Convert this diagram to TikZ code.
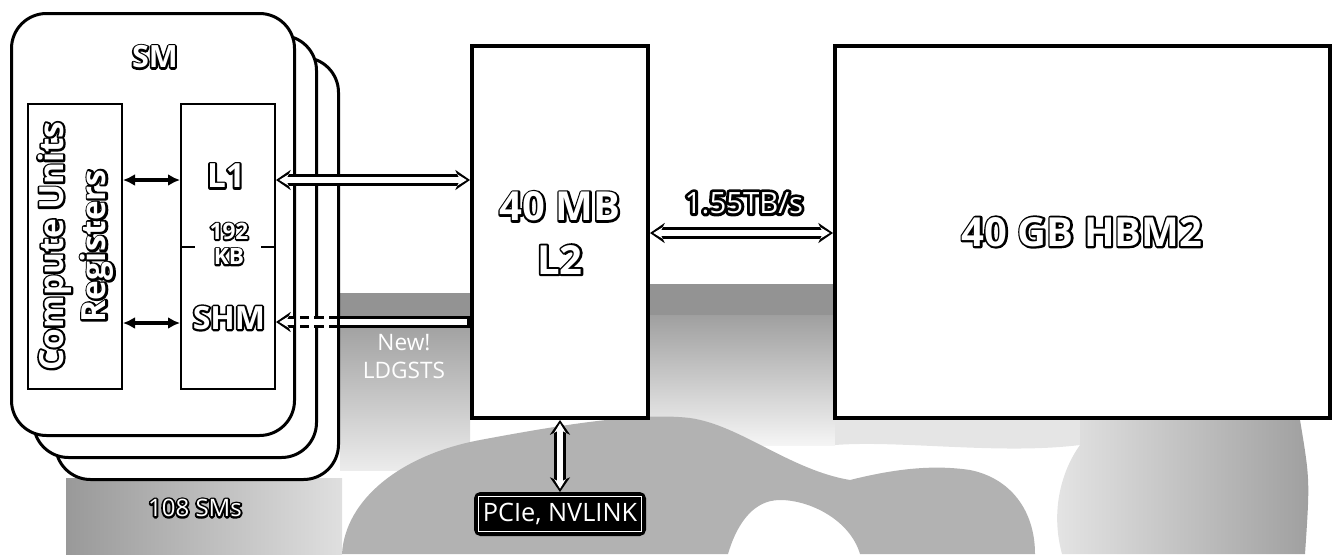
\documentclass[tikz,border=0pt]{standalone}
\usepackage{fontspec}
\setmainfont{Open Sans}
\usetikzlibrary{arrows.meta}

\def\px{0.75pt}
% white text with a black rim: a stroked black copy under the white one
\newcommand{\halo}[2][12]{\makebox[0pt][l]{\color{black}\addfontfeature{FakeBold=#1}#2}#2}

\begin{document}
\begin{tikzpicture}[x=0.75pt,y=-0.75pt]
	\tikzset{
		outtip/.tip={Stealth[length=11pt,width=15pt]},
		intip/.tip={Stealth[length=7pt,width=8.5pt]},
		smbox/.style={draw,line width=3*\px,fill=white,rounded corners=35*\px,
			minimum width=283*\px,minimum height=422*\px},
		unitbox/.style={draw,line width=2*\px,fill=white,
			minimum width=94*\px,minimum height=285*\px},
		membox/.style={draw,line width=4*\px,fill=white},
		pciebox/.style={draw,line width=2*\px,fill=black,rounded corners=4pt,text=white,
			minimum width=170*\px,minimum height=42*\px,font=\fontsize{19pt}{22pt}\selectfont},
		boldlabel/.style={text=white,inner sep=0pt,align=center,line join=round},
		thinarrow/.style={line width=2.5pt,{Latex[length=9pt,width=9pt]}-{Latex[length=9pt,width=9pt]}},
		wideout/.style={line width=9.5pt,black,>=outtip},
		widein/.style={line width=4.5pt,white,>=intip,shorten >=2.5pt,shorten <=2.5pt},
		dashpart/.style={dash pattern=on 7pt off 4pt},
	}
	\useasboundingbox (0,0) rectangle (1338,554);
	
	% background
	\fill[gray!85] (340,293) rectangle (470,322);
	\shade[top color=gray!75,bottom color=gray!15] (340,322) rectangle (470,470);
	\fill[gray!85] (650,284) rectangle (835,315);
	\shade[top color=gray!75,bottom color=gray!8] (650,315) rectangle (835,445);
	\shade[left color=gray!80,right color=gray!25] (66,478) rectangle (342,554);
	\fill[gray!60] (342,554) .. controls (345,500) and (400,455) .. (480,440)
		.. controls (560,425) and (640,412) .. (690,418)
		.. controls (740,425) and (790,470) .. (850,480)
		.. controls (890,470) and (930,464) .. (970,470)
		.. controls (1010,478) and (1035,510) .. (1035,554) -- (860,554)
		.. controls (850,520) and (810,500) .. (780,500)
		.. controls (750,500) and (735,530) .. (728,554) -- cycle;
	\fill[gray!20] (835,420) -- (1080,420) -- (1080,445) .. controls (1000,455) and (900,440) .. (835,445) -- cycle;
	\shade[left color=gray!20,right color=gray!75] (1062,554) .. controls (1050,510) and (1062,470) .. (1080,445)
		-- (1080,420) -- (1300,420) .. controls (1310,480) .. (1305,554) -- cycle;
	
	% SM stack
	\node[smbox] (sm3) at (197,268.5) {};
	\node[smbox] (sm2) at (175,246.5) {};
	\node[smbox] (sm1) at (153,224.5) {};
	\node[unitbox] (cu) at (75,246.5) {};
	\node[unitbox] (l1box) at (228,246.5) {};
	\draw[line width=2*\px] (l1box.west |- 0,247) -- ++(15,0);
	\draw[line width=2*\px] (l1box.east |- 0,247) -- ++(-15,0);
	
	% memories
	\node[membox,minimum width=176*\px,minimum height=372*\px] (l2) at (560,232) {};
	\node[membox,minimum width=495*\px,minimum height=372*\px] (hbm) at (1082.5,232) {};
	\node[pciebox] (pcie) at (560,514) {PCIe, NVLINK};
	\draw[white,line width=1.2pt] ([shift={(3.5pt,3.5pt)}]pcie.south west) rectangle ([shift={(-3.5pt,-3.5pt)}]pcie.north east);
	
	% links
	\draw[thinarrow] (cu.east |- 0,180) -- (l1box.west |- 0,180);
	\draw[thinarrow] (cu.east |- 0,323) -- (l1box.west |- 0,323);
	
	\draw[wideout,<->] (l1box.east |- 0,180) -- (l2.west |- 0,180);
	\draw[widein,<->] (l1box.east |- 0,180) -- (l2.west |- 0,180);
	
	\coordinate (shmend) at (sm3.east |- 0,322);
	\draw[wideout,<-,dashpart] (l1box.east |- 0,322) -- (shmend);
	\draw[widein,<-,dashpart] (l1box.east |- 0,322) -- (shmend);
	\draw[wideout] (shmend) -- (l2.west |- 0,322);
	\draw[widein,shorten <=0pt] (shmend) -- (l2.west |- 0,322);
	
	\draw[wideout,<->] (l2.east |- 0,233) -- (hbm.west |- 0,233);
	\draw[widein,<->] (l2.east |- 0,233) -- (hbm.west |- 0,233);
	
	\draw[wideout,<->] (l2.south) -- (pcie.north);
	\draw[widein,<->] (l2.south) -- (pcie.north);
	
	% labels
	\node[boldlabel,font=\bfseries\fontsize{23pt}{27pt}\selectfont] (smlabel) at (155,57) {\halo{SM}};
	\node[boldlabel,rotate=90,font=\bfseries\fontsize{25pt}{32pt}\selectfont] (culabel) at (76,246)
		{\halo{Compute Units}\\\halo{Registers}};
	\node[boldlabel,font=\bfseries\fontsize{25pt}{30pt}\selectfont] (l1) at (226,176) {\halo{L1}};
	\node[boldlabel,font=\bfseries\fontsize{17pt}{19pt}\selectfont] (size) at (229,244)
		{\halo[14]{192}\\\halo[14]{KB}};
	\node[boldlabel,font=\bfseries\fontsize{24pt}{30pt}\selectfont] (shm) at (229,318) {\halo{SHM}};
	\node[boldlabel,font=\bfseries\fontsize{30pt}{40pt}\selectfont] (l2label) at (560,233)
		{\halo[10]{40 MB}\\\halo[10]{L2}};
	\node[boldlabel,font=\bfseries\fontsize{30pt}{36pt}\selectfont] (hbmlabel) at (1082,232) {\halo[10]{40 GB HBM2}};
	\node[boldlabel,font=\fontsize{22pt}{26pt}\selectfont] (bw) at (744,203) {\halo[20]{1.55TB/s}};
	\node[text=white,align=center,inner sep=0pt,font=\fontsize{17pt}{21pt}\selectfont] (ldgsts) at (404,357) {New!\\LDGSTS};
	\node[boldlabel,font=\fontsize{18pt}{22pt}\selectfont] (smcount) at (195,508) {\halo[16]{108 SMs}};
\end{tikzpicture}
\end{document}
